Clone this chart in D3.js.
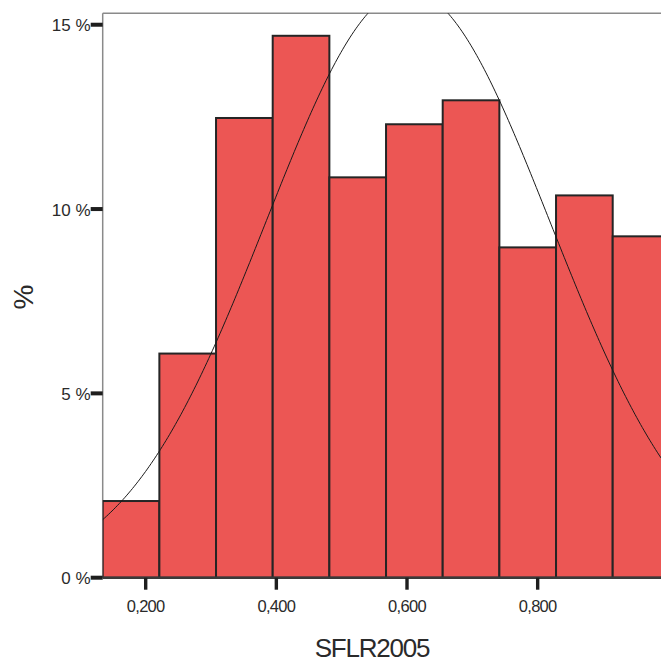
<!DOCTYPE html>
<html>
<head>
<meta charset="utf-8">
<script src="https://cdn.jsdelivr.net/npm/d3@7"></script>
<style>
  body { margin: 0; background: #fff; }
  svg { display: block; font-family: "Liberation Sans", Arial, sans-serif; }
</style>
</head>
<body>
<svg id="chart" width="661" height="663"></svg>
<script>
// histogram of SFLR2005, bars in percent of cases
const binStart = 0.1342;
const binWidth = 0.08674;
const binPercents = [2.08, 6.08, 12.47, 14.70, 10.86, 12.30, 12.95, 8.96, 10.37, 9.26];

// fitted normal curve
const curveMean = 0.6015;
const curveSd = 0.2172;

const yTicks = [0, 5, 10, 15];
const xTicks = [0.2, 0.4, 0.6, 0.8];

// layout
const plotLeft = 102.7, plotRight = 661, plotTop = 13.3, plotBottom = 577.7;

const svg = d3.select('#chart');

const x = d3.scaleLinear()
  .domain([binStart, binStart + (plotRight - plotLeft) / 653.3])
  .range([plotLeft, plotRight]);

const y = d3.scaleLinear()
  .domain([0, 15.31])
  .range([plotBottom, plotTop]);

svg.append('clipPath').attr('id', 'plot-clip')
  .append('rect')
  .attr('x', plotLeft).attr('y', plotTop)
  .attr('width', plotRight - plotLeft).attr('height', plotBottom - plotTop);

// frame (top and left, grey)
svg.append('line')
  .attr('x1', plotLeft).attr('x2', plotRight)
  .attr('y1', plotTop).attr('y2', plotTop)
  .attr('stroke', '#8a8a8a').attr('stroke-width', 1.5);
svg.append('line')
  .attr('x1', plotLeft).attr('x2', plotLeft)
  .attr('y1', plotTop).attr('y2', plotBottom)
  .attr('stroke', '#8a8a8a').attr('stroke-width', 1.5);

// bars
const plot = svg.append('g').attr('clip-path', 'url(#plot-clip)');

plot.selectAll('rect.bar')
  .data(binPercents)
  .enter().append('rect')
  .attr('class', 'bar')
  .attr('x', (d, i) => x(binStart + i * binWidth))
  .attr('width', (d, i) => x(binStart + (i + 1) * binWidth) - x(binStart + i * binWidth))
  .attr('y', d => y(d))
  .attr('height', d => y(0) - y(d))
  .attr('fill', '#ec5654')
  .attr('stroke', '#252525')
  .attr('stroke-width', 2);

// normal curve scaled to bin width
const pdf = v => Math.exp(-((v - curveMean) ** 2) / (2 * curveSd * curveSd)) / (curveSd * Math.sqrt(2 * Math.PI));
const curveXs = d3.range(0, 301).map(i => x.domain()[0] + i * (x.domain()[1] - x.domain()[0]) / 300);

plot.append('path')
  .datum(curveXs)
  .attr('fill', 'none')
  .attr('stroke', '#1a1a1a')
  .attr('stroke-width', 1)
  .attr('d', d3.line()
    .x(v => x(v))
    .y(v => y(100 * binWidth * pdf(v))));

// baseline
svg.append('line')
  .attr('x1', plotLeft).attr('x2', plotRight)
  .attr('y1', plotBottom).attr('y2', plotBottom)
  .attr('stroke', '#3a3a3a').attr('stroke-width', 2.5);

// y ticks and labels
const yAxis = svg.append('g');
yAxis.selectAll('rect')
  .data(yTicks)
  .enter().append('rect')
  .attr('x', 90.7).attr('width', plotLeft - 90.7)
  .attr('y', d => y(d) - 2).attr('height', 4)
  .attr('fill', '#1e1e1e');
yAxis.selectAll('text')
  .data(yTicks)
  .enter().append('text')
  .attr('x', 90.5)
  .attr('y', d => y(d) + 6.5)
  .attr('text-anchor', 'end')
  .attr('font-size', '17px')
  .attr('fill', '#2a2a2a')
  .text(d => d + ' %');

// x ticks and labels
const xAxis = svg.append('g');
xAxis.selectAll('rect')
  .data(xTicks)
  .enter().append('rect')
  .attr('x', d => x(d) - 1.7).attr('width', 3.4)
  .attr('y', plotBottom).attr('height', 12)
  .attr('fill', '#1e1e1e');
xAxis.selectAll('text')
  .data(xTicks)
  .enter().append('text')
  .attr('x', d => x(d))
  .attr('y', 611.7)
  .attr('text-anchor', 'middle')
  .attr('font-size', '16.5px')
  .attr('letter-spacing', '-0.7px')
  .attr('fill', '#2a2a2a')
  .text(d => d3.format('.3f')(d).replace('.', ','));

// axis titles
svg.append('text')
  .attr('x', 372)
  .attr('y', 657)
  .attr('text-anchor', 'middle')
  .attr('font-size', '26px')
  .attr('letter-spacing', '-1.2px')
  .attr('fill', '#2a2a2a')
  .text('SFLR2005');

svg.append('text')
  .attr('transform', 'translate(33,297) rotate(-90)')
  .attr('text-anchor', 'middle')
  .attr('font-size', '28px')
  .attr('fill', '#2a2a2a')
  .text('%');
</script>
</body>
</html>
